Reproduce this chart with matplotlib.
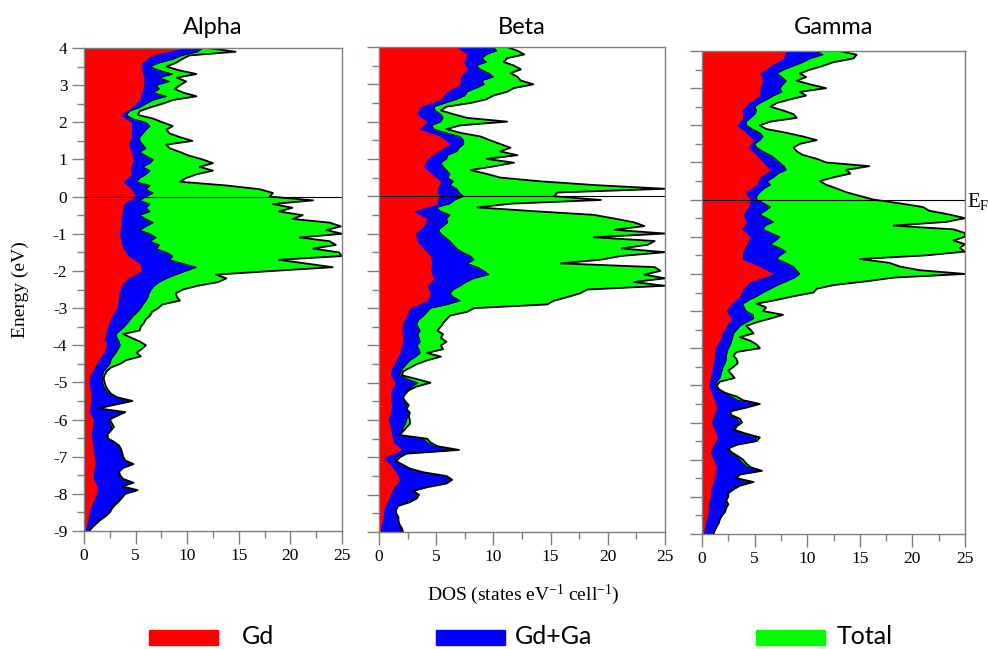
import numpy as np
import matplotlib
matplotlib.use('Agg')
import matplotlib.pyplot as plt
from matplotlib.patches import Rectangle

plt.rcParams['font.family'] = ['Liberation Serif', 'DejaVu Serif']
plt.rcParams['axes.unicode_minus'] = False
plt.rcParams['mathtext.fontset'] = 'custom'
plt.rcParams['mathtext.rm'] = 'Liberation Serif'
plt.rcParams['mathtext.it'] = 'Liberation Serif:italic'

# energy grids (eV), top to bottom
e_fine = np.linspace(4.0, -9.0, 131)    # 0.1 eV step
e_coarse = np.linspace(4.0, -9.0, 66)   # 0.2 eV step

panel_titles = ['Alpha', 'Beta', 'Gamma']
legend_labels = ['Gd', 'Gd+Ga', 'Total']
x_ticks = [0, 5, 10, 15, 20, 25]
x_tick_labels = ['0', '5', '10', '15', '20', '25']
y_ticks = [4, 3, 2, 1, 0, -1, -2, -3, -4, -5, -6, -7, -8, -9]
y_tick_labels = ['4', '3', '2', '1', '0', '-1', '-2', '-3', '-4', '-5',
                 '-6', '-7', '-8', '-9']

# ---- Alpha ----
alpha_total = [
    12.0, 14.7, 10.2, 9.5, 8.9, 8.0, 9.2, 10.9, 9.0, 9.9,
    9.3, 8.8, 9.6, 10.9, 8.6, 7.6, 6.4, 5.4, 5.2, 6.7,
    7.6, 8.6, 8.0, 8.3, 9.3, 10.5, 8.0, 8.3, 9.3, 10.2,
    11.5, 12.5, 11.2, 12.5, 10.9, 9.9, 9.3, 13.8, 17.0, 18.3,
    18.0, 22.2, 18.3, 20.2, 18.9, 21.2, 20.2, 23.8, 24.9, 23.5,
    25.0, 20.9, 23.8, 24.4, 22.2, 24.7, 25.0, 18.9, 21.5, 24.1,
    18.3, 12.8, 13.8, 13.0, 11.0, 9.6, 8.9, 9.0, 9.3, 7.6,
    7.2, 6.6, 6.4, 6.0, 5.8, 5.5, 5.4, 3.8, 4.6, 5.4,
    6.0, 5.6, 5.1, 5.5, 4.1, 3.5, 2.6, 2.2, 2.0, 1.9,
    2.0, 2.1, 2.3, 2.6, 3.2, 4.7, 3.0, 1.4, 4.0, 3.2,
    2.5, 2.7, 2.9, 2.6, 2.3, 2.3, 2.9, 3.4, 3.6, 3.7,
    3.8, 4.0, 4.8, 3.8, 3.4, 3.5, 3.8, 4.8, 3.7, 5.2,
    4.0, 3.7, 3.4, 3.0, 2.7, 2.5, 2.1, 1.6, 1.2, 0.8,
    0.5]
alpha_gdga = [
    11.5, 11.0, 9.5, 8.6, 7.3, 6.4, 7.3, 8.6, 7.3, 8.3,
    7.0, 7.3, 6.7, 8.0, 6.7, 6.0, 5.4, 4.4, 4.1, 4.7,
    6.0, 6.4, 6.0, 5.7, 5.4, 5.4, 5.7, 6.0, 5.4, 6.0,
    6.7, 6.4, 5.7, 6.4, 6.0, 5.4, 5.1, 6.4, 6.0, 6.7,
    6.0, 5.4, 6.4, 6.0, 6.4, 5.4, 6.0, 6.7, 6.0, 5.4,
    6.4, 7.0, 6.4, 7.3, 7.0, 8.0, 8.6, 8.3, 9.6, 10.9,
    9.9, 8.9, 8.0, 7.3, 6.8, 6.5, 6.3, 6.2, 6.0, 5.7,
    5.5, 5.2, 4.8, 4.5, 4.2, 3.9, 3.5, 3.1, 3.2, 3.4,
    3.5, 3.3, 3.1, 2.8, 2.6, 2.5, 2.2, 1.9, 1.8, 1.8,
    1.8, 1.9, 2.1, 2.4, 3.0, 4.5, 2.8, 1.35, 3.8, 3.0,
    2.4, 2.5, 2.7, 2.5, 2.2, 2.2, 2.8, 3.3, 3.5, 3.6,
    3.7, 3.9, 4.6, 3.7, 3.3, 3.4, 3.7, 4.6, 3.6, 5.1,
    3.9, 3.6, 3.3, 2.9, 2.6, 2.4, 2.0, 1.5, 1.1, 0.8,
    0.5]
alpha_gd = [
    9.6, 6.5, 5.6, 5.6, 5.8, 5.8, 5.6, 5.4, 4.6, 3.5,
    4.6, 4.6, 4.6, 4.3, 4.6, 4.8, 4.5, 4.6, 3.8, 4.6,
    5.0, 3.8, 3.7, 3.6, 3.6, 3.4, 3.6, 3.8, 4.3, 5.4,
    5.6, 4.2, 3.6, 3.4, 3.3, 3.2, 2.7, 2.4, 2.2, 2.0,
    2.2, 1.9, 1.4, 1.0, 0.6, 0.5, 0.6, 0.7, 0.6, 0.5,
    0.9, 0.8, 0.7, 0.8, 0.9, 1.0, 1.1, 0.9, 0.9, 1.3,
    1.2, 0.9, 0.6, 0.45, 0.3, 0.1]

# ---- Beta ----
beta_total = [
    11.2, 12.1, 12.7, 11.2, 10.9, 11.8, 12.4, 11.5, 12.1, 12.4,
    13.5, 11.8, 11.2, 10.0, 9.4, 8.0, 5.9, 5.4, 6.5, 7.7,
    11.2, 7.1, 5.9, 7.1, 8.9, 9.7, 10.6, 11.5, 10.6, 12.1,
    9.4, 11.8, 10.0, 8.0, 9.4, 10.6, 14.1, 18.8, 25.0, 15.6,
    15.3, 19.4, 11.5, 8.6, 13.5, 18.8, 20.6, 22.3, 23.2, 20.6,
    25.0, 18.8, 24.1, 23.5, 21.2, 25.0, 21.2, 19.4, 15.9, 24.1,
    24.6, 23.2, 25.0, 22.3, 25.0, 18.2, 17.6, 16.5, 15.3, 14.7,
    8.3, 7.7, 6.2, 5.9, 5.6, 5.4, 5.1, 5.6, 5.4, 5.9,
    5.4, 5.6, 4.2, 5.4, 4.2, 3.3, 2.7, 2.1, 2.0, 3.3,
    4.5, 3.3, 2.6, 2.3, 2.1, 2.3, 2.6, 2.4, 2.7, 2.6,
    2.7, 2.7, 2.4, 2.1, 1.8, 4.2, 4.5, 5.1, 7.0, 2.4,
    1.8, 1.5, 2.1, 2.7, 3.9, 5.9, 6.4, 5.9, 4.2, 3.0,
    3.5, 3.3, 2.7, 1.7, 1.5, 1.5, 1.7, 1.7, 1.8, 2.0,
    2.1]
beta_gdga = [
    10.0, 10.3, 9.4, 9.0, 9.4, 8.5, 8.9, 9.6, 10.0, 9.0,
    9.2, 8.5, 7.7, 7.5, 6.8, 5.8, 4.8, 4.9, 5.4, 5.6,
    5.4, 4.6, 4.8, 5.9, 7.1, 7.4, 7.4, 7.0, 6.8, 6.0,
    5.9, 5.4, 5.6, 5.9, 6.2, 6.0, 6.5, 6.2, 6.8, 7.0,
    7.4, 6.6, 6.2, 5.0, 5.4, 6.2, 5.9, 6.0, 5.6, 5.2,
    5.4, 5.8, 6.2, 6.5, 6.8, 7.3, 8.0, 8.3, 7.7, 8.6,
    9.2, 9.6, 8.3, 7.6, 7.1, 6.5, 6.2, 6.5, 7.1, 6.0,
    4.5, 4.2, 3.9, 3.5, 3.3, 3.4, 3.6, 3.4, 3.5, 3.6,
    3.3, 3.5, 3.6, 3.2, 2.7, 2.4, 2.1, 1.9, 1.8, 2.5,
    3.4, 2.9, 2.4, 2.2, 2.1, 2.2, 2.4, 2.4, 2.6, 2.5,
    2.4, 2.3, 2.1, 2.0, 1.8, 3.9, 4.2, 4.8, 6.8, 2.1,
    1.5, 1.4, 2.0, 2.6, 3.8, 5.8, 6.3, 5.8, 3.9, 2.9,
    3.3, 3.2, 2.4, 1.6, 1.5, 1.5, 1.7, 1.7, 1.8, 1.9,
    2.0]
beta_gd = [
    6.8, 7.7, 7.4, 7.7, 7.1, 7.1, 5.9, 5.4, 3.6, 3.3,
    4.2, 3.5, 5.4, 6.2, 5.1, 4.2, 3.9, 4.6, 5.4, 5.1,
    5.2, 5.1, 3.0, 4.2, 3.9, 3.2, 3.3, 3.9, 4.5, 4.6,
    4.5, 4.8, 4.2, 4.5, 4.2, 2.7, 2.4, 2.1, 2.0, 2.1,
    2.0, 1.8, 1.5, 1.1, 1.0, 1.4, 1.1, 1.0, 1.1, 1.0,
    0.8, 1.0, 1.1, 1.3, 2.0, 0.4, 1.0, 1.5, 1.8, 1.3,
    1.0, 0.7, 0.4, 0.4, 0.2, 0.1]

# ---- Gamma ----
gamma_total = [
    13.1, 14.7, 14.4, 12.5, 11.5, 10.3, 9.3, 9.9, 9.0, 10.3,
    11.8, 9.3, 9.9, 8.4, 7.1, 6.5, 7.7, 8.7, 9.0, 6.5,
    5.5, 6.1, 8.0, 9.6, 10.9, 9.3, 8.7, 9.0, 9.6, 10.9,
    11.8, 15.9, 13.7, 14.1, 12.5, 11.2, 11.8, 12.8, 13.7, 15.0,
    16.3, 18.8, 21.0, 21.6, 23.5, 25.0, 23.2, 18.2, 23.9, 25.0,
    25.0, 23.9, 25.0, 24.5, 25.0, 21.3, 15.0, 17.8, 18.8, 20.7,
    25.0, 18.2, 15.6, 12.5, 10.9, 10.6, 8.7, 7.1, 5.2, 6.1,
    5.8, 7.7, 6.5, 5.2, 4.2, 4.6, 4.9, 3.6, 4.6, 5.2,
    5.5, 3.3, 3.0, 3.3, 3.4, 3.0, 2.5, 2.8, 3.1, 1.7,
    1.4, 1.6, 2.2, 3.3, 3.9, 5.5, 4.2, 2.7, 2.8, 3.6,
    3.8, 3.3, 3.1, 4.2, 5.5, 5.2, 3.3, 2.5, 2.8, 3.4,
    3.9, 4.2, 4.6, 5.7, 3.6, 3.3, 4.9, 3.6, 3.0, 2.5,
    2.5, 2.3, 2.5, 2.3, 2.2, 1.9, 1.7, 1.6, 1.4, 1.2,
    1.1]
gamma_gdga = [
    10.9, 11.5, 10.3, 9.6, 8.7, 7.8, 7.1, 7.6, 8.0, 7.7,
    7.4, 7.6, 6.8, 6.2, 5.5, 5.0, 5.2, 5.0, 4.6, 4.2,
    4.2, 4.8, 5.5, 5.8, 5.5, 5.0, 5.2, 5.8, 6.5, 7.0,
    7.4, 7.8, 8.0, 7.2, 6.8, 6.2, 6.5, 5.9, 5.5, 5.2,
    5.2, 5.9, 6.5, 6.0, 5.5, 6.2, 6.8, 6.0, 5.8, 6.6,
    7.4, 7.0, 6.5, 7.4, 8.0, 7.4, 7.1, 8.0, 8.7, 9.0,
    9.3, 8.8, 8.0, 7.2, 6.5, 5.8, 5.2, 4.5, 3.9, 4.0,
    4.2, 4.9, 4.9, 4.2, 3.6, 3.3, 3.0, 2.9, 2.8, 2.7,
    2.5, 2.4, 2.3, 2.3, 2.2, 2.0, 1.9, 1.8, 1.7, 1.4,
    1.2, 1.5, 2.1, 2.8, 3.4, 5.3, 4.0, 2.6, 2.7, 3.3,
    3.6, 3.1, 2.9, 3.8, 5.2, 5.0, 3.2, 2.4, 2.6, 3.2,
    3.6, 3.9, 4.3, 5.5, 3.5, 3.1, 4.7, 3.4, 2.9, 2.4,
    2.4, 2.2, 2.3, 2.2, 2.1, 1.9, 1.7, 1.6, 1.4, 1.2,
    1.0]
gamma_gd = [
    8.0, 7.7, 6.5, 5.5, 5.8, 5.5, 5.5, 4.4, 3.8, 3.9,
    3.3, 4.2, 4.9, 4.4, 5.2, 5.8, 6.5, 5.5, 5.2, 4.1,
    4.6, 4.4, 3.9, 4.2, 3.8, 4.6, 4.2, 3.9, 3.8, 5.5,
    6.8, 4.6, 3.9, 3.6, 2.8, 2.3, 2.8, 2.3, 1.9, 1.7,
    1.2, 1.2, 1.1, 0.9, 0.8, 0.6, 0.9, 1.2, 1.4, 1.1,
    0.9, 1.2, 1.5, 1.1, 0.8, 1.1, 1.4, 1.2, 1.1, 0.8,
    0.8, 0.6, 0.6, 0.4, 0.3, 0.1]

colors = ['#ff0000', '#0000ff', '#00ff00']
spine_col = '#7f7f7f'
serif = 'Liberation Serif'
sans = ['Lato', 'DejaVu Sans']

fig = plt.figure(figsize=(9.88, 6.49), dpi=100)

# axes boxes in pixels: left, top, right, bottom
boxes = [(84, 48, 342, 531), (379, 47, 665, 532), (702, 51, 965, 534)]
panels = [(alpha_total, alpha_gdga, alpha_gd),
          (beta_total, beta_gdga, beta_gd),
          (gamma_total, gamma_gdga, gamma_gd)]
W, H = 988, 649

for i, ((l, t, r, b), (tot, gg, gd)) in enumerate(zip(boxes, panels)):
    ax = fig.add_axes([l / W, 1 - b / H, (r - l) / W, (b - t) / H])
    ax.fill_betweenx(e_fine, 0, tot, color=colors[2], lw=0)
    ax.plot(tot, e_fine, color='black', lw=1.3)
    ax.fill_betweenx(e_fine, 0, gg, color=colors[1], lw=0)
    ax.plot(gg, e_fine, color='black', lw=0.6)
    ax.fill_betweenx(e_coarse, 0, gd, color=colors[0], lw=0)
    ax.axhline(0, color='black', lw=0.8)
    ax.set_xlim(0, 25)
    ax.set_ylim(-9, 4)
    ax.set_xticks(x_ticks, labels=x_tick_labels)
    ax.set_xticks(np.arange(2.5, 25, 5), minor=True)
    if i == 0:
        ax.set_yticks(y_ticks, labels=y_tick_labels)
    else:
        ax.set_yticks(y_ticks, labels=[])
    ax.set_yticks(np.arange(3.5, -9, -1), minor=True)
    ax.tick_params(which='both', direction='out', color=spine_col, width=1,
                   labelsize=12.5, pad=3, labelfontfamily=serif)
    ax.tick_params(which='major', length=9)
    ax.tick_params(which='minor', length=5)
    for s in ax.spines.values():
        s.set_color(spine_col)
        s.set_linewidth(1)
    cx = (l + r) / 2 / W
    fig.text(cx, 1 - 27 / H, panel_titles[i], ha='center', va='center',
             fontsize=17, family=sans)

fig.text(20 / W, 1 - 290 / H, 'Energy (eV)', rotation=90, ha='center',
         va='center', fontsize=14, family=serif)
fig.text(523 / W, 1 - 595 / H, r'DOS (states eV$^{\mathrm{-1}}$ cell$^{\mathrm{-1}}$)',
         ha='center', va='center', fontsize=14, family=serif)
fig.text(967 / W, 1 - 201 / H, r'E$_{\mathrm{F}}$', ha='left', va='center',
         fontsize=15, family=serif)

# legend strip at the bottom
leg_x = [(149, 242), (436, 515), (756, 837)]
for (rx, tx), lab, c in zip(leg_x, legend_labels, colors):
    fig.patches.append(Rectangle((rx / W, 1 - 645 / H), 69 / W, 15 / H,
                                 transform=fig.transFigure, color=c))
    fig.text(tx / W, 1 - 637 / H, lab, ha='left', va='center', fontsize=18,
             family=sans)

fig.savefig('out.png', dpi=100)
